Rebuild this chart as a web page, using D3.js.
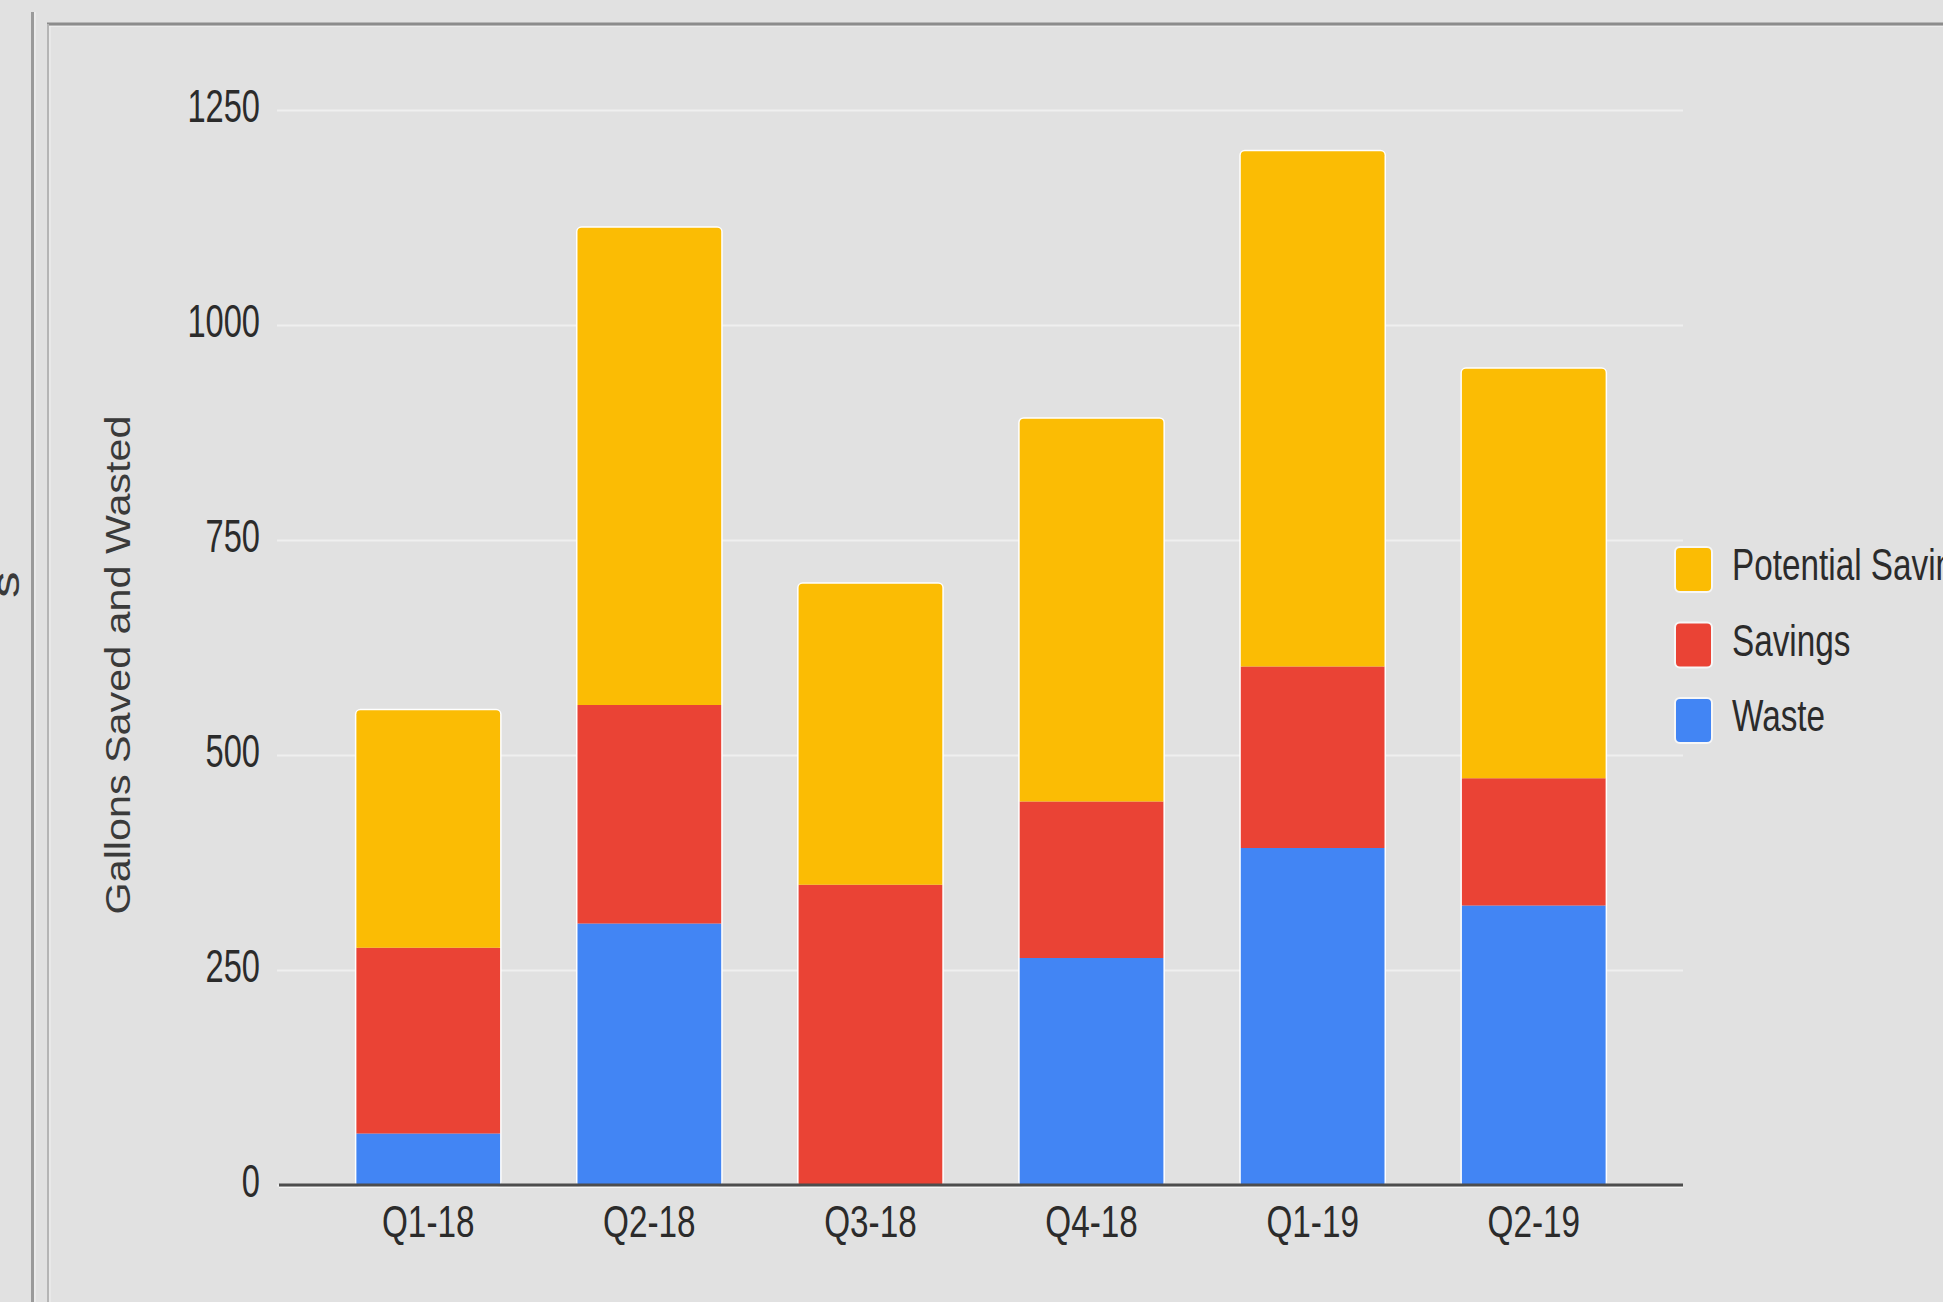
<!DOCTYPE html>
<html>
<head>
<meta charset="utf-8">
<script src="https://cdn.jsdelivr.net/npm/d3@7"></script>
<style>
  html, body { margin: 0; padding: 0; background: #e1e1e1; overflow: hidden; }
  svg { display: block; }
  text { font-family: "Liberation Sans", Arial, sans-serif; }
</style>
</head>
<body>
<svg id="chart" width="1943" height="1302"></svg>
<script>
// ---- data ----
const categories = ["Q1-18", "Q2-18", "Q3-18", "Q4-18", "Q1-19", "Q2-19"];
const waste = [60, 304, 0, 264, 392, 325];
const savings = [216, 254, 349, 182, 211, 148];
const potentialSavings = [276, 555, 350, 445, 599, 476];
const seriesNames = ["Waste", "Savings", "Potential Savings"];
const seriesColors = ["#4285F4", "#EA4335", "#FBBC04"];
const yTicks = [0, 250, 500, 750, 1000, 1250];
const legendOrder = ["Potential Savings", "Savings", "Waste"];

// ---- layout ----
const W = 1943, H = 1302;
const plot = { left: 279, right: 1683, top: 110, bottom: 1185 };

const svg = d3.select("#chart");

// page frame
svg.append("rect").attr("x", 0).attr("y", 0).attr("width", W).attr("height", H).attr("fill", "#e1e1e1");
svg.append("line").attr("x1", 32.5).attr("x2", 32.5).attr("y1", 12).attr("y2", H)
  .attr("stroke", "#9a9a9a").attr("stroke-width", 3);
svg.append("line").attr("x1", 35).attr("x2", 35).attr("y1", 12).attr("y2", H)
  .attr("stroke", "#f4f4f4").attr("stroke-width", 1);
svg.append("line").attr("x1", 47).attr("x2", W).attr("y1", 24).attr("y2", 24)
  .attr("stroke", "#8c8c8c").attr("stroke-width", 3);
svg.append("line").attr("x1", 47).attr("x2", W).attr("y1", 26.5).attr("y2", 26.5)
  .attr("stroke", "#ececec").attr("stroke-width", 1);
svg.append("line").attr("x1", 48).attr("x2", 48).attr("y1", 24).attr("y2", H)
  .attr("stroke", "#b5b5b5").attr("stroke-width", 2);
svg.append("line").attr("x1", 50).attr("x2", 50).attr("y1", 26).attr("y2", H)
  .attr("stroke", "#f0f0f0").attr("stroke-width", 1);

// cut-off label fragment at far left
svg.append("text")
  .attr("transform", "translate(19,598) rotate(-90) scale(1.4,1)")
  .attr("font-size", 38).attr("fill", "#3a3a3a").text("s");

// ---- scales ----
const x = d3.scaleBand().domain(categories).range([plot.left, plot.right])
  .paddingInner(0.35).paddingOuter(0.35);
const y = d3.scaleLinear().domain([0, 1250]).range([plot.bottom, plot.top]);

// gridlines + y axis
const yAxis = d3.axisLeft(y).tickValues(yTicks).tickFormat(d3.format("d"))
  .tickSize(-(plot.right - plot.left + 2)).tickPadding(0);
const gy = svg.append("g").attr("transform", `translate(${plot.left - 2},0)`).call(yAxis);
gy.select(".domain").remove();
gy.selectAll(".tick line").attr("stroke", "#efefef").attr("stroke-width", 2);
const ySx = 0.71;
gy.selectAll(".tick text")
  .attr("font-size", 46).attr("fill", "#2b2b2b")
  .attr("font-family", "'Liberation Sans', Arial, sans-serif")
  .attr("x", -17 / ySx).attr("dy", "0.30em")
  .attr("transform", `translate(0,-2) scale(${ySx},1)`);

// ---- stacked bars ----
const table = categories.map((c, i) => ({
  cat: c, "Waste": waste[i], "Savings": savings[i], "Potential Savings": potentialSavings[i]
}));
const stack = d3.stack().keys(seriesNames)(table);
const colorOf = d3.scaleOrdinal().domain(seriesNames).range(seriesColors);
const bw = x.bandwidth();

// white halo around each whole bar
svg.append("g").selectAll("rect").data(table).join("rect")
  .attr("x", d => x(d.cat))
  .attr("width", bw)
  .attr("y", d => y(d.Waste + d.Savings + d["Potential Savings"]))
  .attr("height", d => y(0) - y(d.Waste + d.Savings + d["Potential Savings"]))
  .attr("rx", 4)
  .attr("fill", "none").attr("stroke", "#ffffff").attr("stroke-width", 3);

function segPath(x0, w, yTop, yBot, r) {
  const h = yBot - yTop;
  if (h <= 0) return "";
  r = Math.min(r, h, w / 2);
  return `M${x0},${yBot}V${yTop + r}Q${x0},${yTop} ${x0 + r},${yTop}H${x0 + w - r}Q${x0 + w},${yTop} ${x0 + w},${yTop + r}V${yBot}Z`;
}

stack.forEach((layer, li) => {
  const isTop = li === stack.length - 1;
  svg.append("g").attr("fill", colorOf(layer.key))
    .selectAll("path").data(layer).join("path")
    .attr("d", d => segPath(x(d.data.cat), bw, y(d[1]), y(d[0]), isTop ? 4 : 0));
});

// baseline (x axis)
const xAxis = d3.axisBottom(x).tickSize(0).tickPadding(0);
const gx = svg.append("g").attr("transform", `translate(0,${plot.bottom})`).call(xAxis);
gx.select(".domain").attr("d", `M${plot.left},0H${plot.right}`).attr("stroke", "#4d4d4d").attr("stroke-width", 3);
const xSx = 0.74;
gx.selectAll(".tick text")
  .attr("font-size", 45).attr("fill", "#2b2b2b")
  .attr("font-family", "'Liberation Sans', Arial, sans-serif")
  .attr("y", 52).attr("dy", 0)
  .attr("transform", `scale(${xSx},1)`);
svg.append("line").attr("x1", plot.left).attr("x2", plot.right)
  .attr("y1", plot.bottom + 2.5).attr("y2", plot.bottom + 2.5)
  .attr("stroke", "#f6f6f6").attr("stroke-width", 1);

// y-axis title
svg.append("text")
  .attr("transform", "translate(130,665) rotate(-90) scale(1.18,1)")
  .attr("text-anchor", "middle").attr("font-size", 35).attr("fill", "#3a3a3a")
  .text("Gallons Saved and Wasted");

// ---- legend ----
const legY = d3.scalePoint().domain(legendOrder).range([547, 698]);
const leg = svg.append("g");
legendOrder.forEach(name => {
  const yy = legY(name);
  leg.append("rect").attr("x", 1675).attr("y", yy).attr("width", 37).attr("height", 45)
    .attr("rx", 5).attr("fill", colorOf(name)).attr("stroke", "#f7f7f7").attr("stroke-width", 2);
  leg.append("text")
    .attr("transform", `translate(1732,${yy + 33}) scale(0.74,1)`)
    .attr("font-size", 45).attr("fill", "#2b2b2b").text(name);
});
</script>
</body>
</html>
